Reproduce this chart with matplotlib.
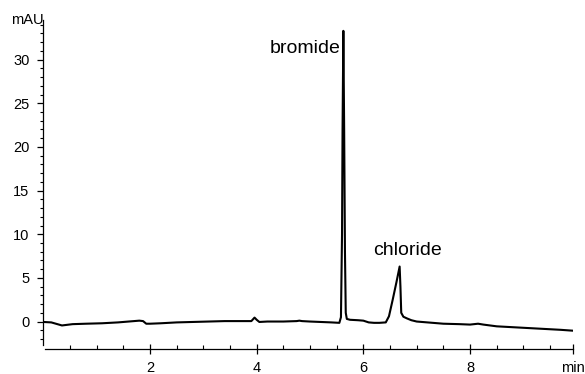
import numpy as np
import matplotlib
matplotlib.use('Agg')
import matplotlib.pyplot as plt

plt.rcParams['font.family'] = ['Liberation Sans', 'DejaVu Sans']

# chromatogram trace (time in min, signal in mAU)
time_min = [0.0, 0.15, 0.35, 0.55, 0.8, 1.1, 1.4, 1.6, 1.8, 1.87, 1.93, 2.0,
            2.2, 2.5, 2.8, 3.1, 3.4, 3.7, 3.9, 3.96, 4.0, 4.05, 4.2, 4.5,
            4.75, 4.8, 4.85, 5.0, 5.2, 5.4, 5.55, 5.58, 5.60, 5.61, 5.625,
            5.64, 5.655, 5.67, 5.69, 5.75, 5.9, 6.0, 6.1, 6.2, 6.3, 6.42,
            6.48, 6.55, 6.62, 6.68, 6.695, 6.71, 6.75, 6.82, 6.9, 7.0, 7.2,
            7.5, 7.8, 8.0, 8.15, 8.25, 8.5, 8.8, 9.1, 9.4, 9.7, 9.93]
signal = [-0.05, -0.1, -0.45, -0.3, -0.25, -0.2, -0.1, 0.0, 0.1, 0.05, -0.25, -0.25,
          -0.2, -0.1, -0.05, 0.0, 0.05, 0.05, 0.05, 0.45, 0.2, -0.05, 0.0, 0.0,
          0.05, 0.1, 0.05, 0.0, -0.05, -0.1, -0.15, 0.5, 10.0, 22.0, 33.3,
          22.0, 8.0, 1.0, 0.3, 0.2, 0.15, 0.1, -0.1, -0.15, -0.15, -0.1,
          0.6, 2.5, 4.5, 6.3, 4.0, 1.0, 0.55, 0.35, 0.15, 0.0, -0.1,
          -0.25, -0.3, -0.35, -0.25, -0.35, -0.55, -0.65, -0.75, -0.85, -0.95, -1.05]

peak_names = ['bromide', 'chloride']
peak_label_x = [5.58, 6.82]
peak_label_y = [30.75, 7.6]

x_major = [2, 4, 6, 8]
x_end = 9.93
y_major = [0, 5, 10, 15, 20, 25, 30]

fig = plt.figure(figsize=(5.85, 3.74), dpi=100)
W, H = 585.0, 374.0
ax = fig.add_axes([43.3 / W, (H - 345.1) / H, (573 - 43.3) / W, (345.1 - 19.5) / H])

ax.plot(time_min, signal, color='black', lw=1.5, solid_joinstyle='round')

ax.set_xlim(0, x_end)
ax.set_ylim(-2.7, 34.6)

for s in ['top', 'right']:
    ax.spines[s].set_visible(False)
ax.spines['bottom'].set_position(('outward', 3))
ax.spines['bottom'].set_bounds(0.03, x_end)
ax.spines['left'].set_linewidth(0.9)
ax.spines['bottom'].set_linewidth(0.9)

ax.set_xticks(x_major + [x_end])
ax.set_xticklabels([str(v) for v in x_major] + ['min'])
ax.set_xticks([v for v in np.arange(0.5, 9.6, 0.5) if v not in x_major], minor=True)
ax.set_yticks(y_major)
ax.set_yticks([v for v in range(-2, 35) if v % 5 != 0], minor=True)

ax.tick_params(axis='x', which='major', direction='inout', length=7, width=0.9,
               pad=5, labelsize=10.5)
ax.tick_params(axis='x', which='minor', direction='in', length=3, width=0.8)
ax.tick_params(axis='y', which='major', direction='out', length=4, width=0.9,
               pad=6, labelsize=10.5)
ax.tick_params(axis='y', which='minor', direction='out', length=2.5, width=0.8)

ax.text(0.0, 1.0, 'mAU', transform=ax.transAxes, ha='right', va='center',
        fontsize=10.5)

ax.text(peak_label_x[0], peak_label_y[0], peak_names[0], ha='right',
        va='baseline', fontsize=14)
ax.text(peak_label_x[1], peak_label_y[1], peak_names[1], ha='center',
        va='baseline', fontsize=14)

fig.savefig('out.png', dpi=100)
